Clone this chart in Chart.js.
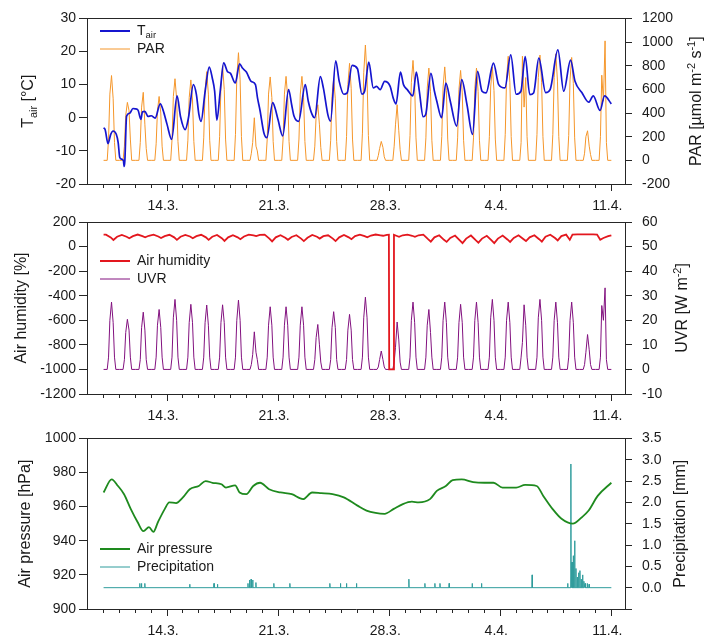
<!DOCTYPE html>
<html><head><meta charset="utf-8">
<script src="https://cdn.jsdelivr.net/npm/chart.js@4.4.1/dist/chart.umd.min.js"></script>
<style>
html,body{margin:0;padding:0;background:#fff;}
body{width:708px;height:638px;position:relative;overflow:hidden;}
canvas{position:absolute;left:0;}
</style></head><body>
<canvas id="c1" width="708" height="216" style="top:0px"></canvas>
<canvas id="c2" width="708" height="232" style="top:200px"></canvas>
<canvas id="c3" width="708" height="218" style="top:420px"></canvas>
<script>
// ---------- DATA (days counted from 1 March 00:00) ----------
const dayTicks = [9,10,11,12,13,14,15,16,17,18,19,20,21,22,23,24,25,26,27,28,29,30,31,32,33,34,35,36,37,38,39,40,41];
const majorDays = [13,20,27,34,41];
const majorLabels = ['14.3.','21.3.','28.3.','4.4.','11.4.'];
const firstDay = 9;

// air temperature
const tairDays = [9.0,9.1,9.28,9.45,9.6,9.8,9.92,10.02,10.15,10.25,10.3,10.34,10.45,10.65,10.85,11.0,11.17,11.35,11.45,11.6,11.8,12.0,12.25,12.57,12.75,13.0,13.29,13.63,13.85,14.14,14.35,14.66,14.85,15.0,15.14,15.4,15.66,15.85,16.0,16.14,16.35,16.57,16.8,17.0,17.3,17.57,17.75,18.0,18.3,18.57,18.7,18.86,19.1,19.29,19.66,19.8,20.0,20.29,20.66,20.85,21.0,21.29,21.71,21.9,22.14,22.3,22.66,22.85,23.14,23.3,23.63,23.85,24.14,24.35,24.66,25.0,25.28,25.45,25.71,26.0,26.2,26.43,26.71,27.06,27.25,27.43,27.71,27.9,28.14,28.49,28.71,28.9,29.14,29.3,29.63,29.85,30.0,30.3,30.57,30.85,31.25,31.57,31.9,32.25,32.57,32.85,33.1,33.57,33.9,34.29,34.66,35.0,35.3,35.57,35.86,36.1,36.43,36.86,37.14,37.63,38.0,38.43,38.71,39.14,39.57,39.86,40.29,40.57,41.0];
const tairVals = [-3,-3.6,-7.8,-5.0,-4.0,-5.0,-7.5,-12,-12.5,-13,-14.7,-13,0.5,1.4,2.8,2.7,2.3,-0.5,1.8,1.9,0.4,0.6,-0.1,4.2,2.3,-2.0,-6.5,6.6,0.3,-3.6,0,10,7,1.2,-1.1,8,15.3,12,8,-0.7,8,16.6,14,13.4,10.5,16.3,15,13.8,11,10,6,2.2,-4.5,-6,4.6,3,-0.7,-5.5,8.5,4,0.5,-1.1,10,5,1,0,12.4,9,0.8,-1,17.2,11,7.1,7.5,15.8,14.8,7.1,8,16.8,9.0,9.5,8.5,11.0,9.5,6,4.2,13.8,10,8.5,6.6,13.8,8,0.3,1,13.4,8,5,0,10.5,5,-2.5,11.5,4,-5,14,8,7.5,16.5,10,9,19,7.1,8,18.5,7,7.5,18,7.6,8.5,20.5,8,17.4,11,7.6,4.7,6.6,2.2,6.6,4.2];

// PAR and UVR: one row per day (10.3. ... 10.4., then 11.4.), values at these hours
const radHours = [0,5.5,7.5,9.5,12,14.5,16.5,18.5];
const parRows = [
[0,0,180,560,717,520,150,0],
[0,0,120,380,490,420,180,0],
[0,0,150,450,575,300,100,0],
[0,0,140,420,540,400,120,0],
[0,0,170,540,690,520,160,0],
[0,0,170,530,680,510,160,0],
[0,0,190,590,750,560,170,0],
[0,0,200,620,800,600,180,0],
[0,0,220,700,910,680,200,0],
[0,0,60,150,360,120,80,0],
[0,0,180,560,705,530,160,0],
[0,0,180,560,710,530,160,0],
[0,0,180,560,710,530,160,0],
[0,0,120,380,470,300,110,0],
[0,0,170,540,690,520,160,0],
[0,0,200,640,820,610,180,0],
[0,0,230,740,975,700,210,0],
[0,0,40,100,160,110,30,0],
[0,0,120,300,470,250,90,0],
[0,0,210,660,845,630,190,0],
[0,0,190,610,780,580,170,0],
[0,0,200,620,790,590,180,0],
[0,0,190,600,760,570,170,0],
[0,0,190,610,780,580,170,0],
[0,0,200,620,790,590,180,0],
[0,0,220,690,880,660,200,0],
[0,0,150,880,450,700,200,0],
[0,0,220,700,890,660,200,0],
[0,0,220,700,900,670,200,0],
[0,0,210,680,870,650,190,0],
[0,0,60,200,250,120,50,0],
[0,0,200,720,500,1010,150,0],
[0]
];
const uvrRows = [
[0,0,5,20,27.4,19,5,0],
[0,0,4,15,20.4,16,5,0],
[0,0,4,17,23.3,16,4,0],
[0,0,5,18,24.4,17,5,0],
[0,0,5,21,28.5,20,5,0],
[0,0,5,19,26.5,19,5,0],
[0,0,5,19,26.2,18,5,0],
[0,0,5,19,26.3,19,5,0],
[0,0,5,20,28.2,20,5,0],
[0,0,2,6,15.3,7,4,0],
[0,0,5,18,25.5,18,5,0],
[0,0,5,18,25.5,18,5,0],
[0,0,5,18,25.5,18,5,0],
[0,0,4,13,18.3,10,3,0],
[0,0,4,17,23.5,17,4,0],
[0,0,4,16,22.4,16,4,0],
[0,0,5,21,29.4,21,5,0],
[0,0,1,4,7.5,4,1,0],
[0,0,3,9,19.3,12,3,0],
[0,0,5,20,27.4,19,5,0],
[0,0,5,18,24.4,15,5,0],
[0,0,5,20,27.4,19,5,0],
[0,0,5,19,26.5,19,5,0],
[0,0,5,20,27.4,19,5,0],
[0,0,5,21,28.5,20,5,0],
[0,0,5,20,27.4,19,5,0],
[0,0,5,11,26.3,18,5,0],
[0,0,5,21,28.5,20,5,0],
[0,0,5,20,27.4,19,5,0],
[0,0,5,20,27.4,19,5,0],
[0,0,2,7,14.2,8,2,0],
[0,0,5,26,20,33.2,4,0],
[0]
];

// air humidity
const humDays = [9.0,9.15,9.45,9.62,9.85,10.15,10.45,10.62,10.85,11.15,11.45,11.62,11.85,12.15,12.45,12.62,12.85,13.15,13.45,13.62,13.85,14.15,14.45,14.62,14.85,15.15,15.45,15.62,15.85,16.15,16.45,16.62,16.85,17.15,17.45,17.62,17.85,18.15,18.45,18.62,18.85,19.15,19.45,19.62,19.85,20.15,20.45,20.62,20.85,21.15,21.45,21.62,21.85,22.15,22.45,22.62,22.85,23.15,23.45,23.62,23.85,24.15,24.45,24.62,24.85,25.15,25.45,25.62,25.85,26.15,26.45,26.62,26.85,26.98,27.0,27.28,27.3,27.45,27.62,27.85,28.15,28.45,28.62,28.85,29.15,29.45,29.62,29.85,30.15,30.45,30.62,30.85,31.15,31.45,31.62,31.85,32.15,32.45,32.62,32.85,33.15,33.45,33.62,33.85,34.15,34.45,34.62,34.85,35.15,35.45,35.62,35.85,36.15,36.45,36.62,36.85,37.15,37.45,37.62,37.85,38.15,38.3,38.38,38.55,38.85,39.15,39.45,39.85,40.1,40.3,40.5,40.8,41.0];
const humVals = [98,97,75,54,80,95,80,68,85,98,85,76,88,97,82,70,85,96,75,55,80,95,82,68,85,96,75,55,80,94,68,46,75,92,75,60,82,97,92,85,95,97,65,42,75,92,72,55,78,92,65,45,72,95,80,65,85,92,65,45,75,95,75,60,85,97,85,75,90,98,92,88,95,96,-1000,-1000,95,88,80,92,97,88,80,92,97,60,40,75,92,55,38,70,90,50,28,65,90,52,32,65,88,50,28,65,90,58,38,70,92,62,45,75,92,60,40,80,96,70,50,85,97,70,55,98,99,99,99,99,98,55,70,85,92];

// air pressure
const presDays = [9.0,9.51,9.91,10.29,10.71,11.14,11.51,11.86,12.14,12.43,12.86,13.14,13.57,14.0,14.43,15.0,15.43,15.86,16.43,16.71,17.29,17.57,18.0,18.43,18.86,19.43,20.14,20.86,21.57,22.14,22.71,23.43,24.14,25.0,25.57,26.14,26.71,27.29,27.86,28.43,28.86,29.57,30.0,30.57,31.0,31.57,32.29,33.0,33.57,34.14,35.0,35.57,36.29,36.71,37.29,37.86,38.57,39.14,39.57,40.14,41.0];
const presVals = [968.3,976,972.1,967.3,958.7,951,945.6,948,945.2,951,958.7,962.5,962.1,965.4,970.2,972.1,975,974,973.1,971.2,972.5,968.3,967.3,972.1,974,970.2,968.3,967.3,964.4,968.3,967.9,967.3,965.4,960.6,957.7,956.3,955.8,958.7,961.5,962.9,962.5,964.4,969.2,972.1,975.6,976,974.4,974,974,971.2,971.2,972.7,972.1,966.3,958.7,952.9,950,953.8,957.7,966.3,974];

// precipitation events (mm), zero otherwise
const precDays = [11.28,11.39,11.6,14.43,15.96,16.18,18.1,18.2,18.3,18.4,18.6,19.73,20.74,23.26,23.93,24.31,24.94,28.24,29.25,29.88,30.2,30.78,32.23,32.82,36.01,38.25,38.45,38.52,38.6,38.69,38.77,38.85,38.94,39.02,39.1,39.19,39.27,39.35,39.48,39.6];
const precVals = [0.1,0.1,0.1,0.08,0.1,0.08,0.1,0.18,0.2,0.18,0.12,0.1,0.1,0.1,0.1,0.1,0.1,0.2,0.1,0.1,0.1,0.1,0.1,0.1,0.3,0.1,2.9,0.6,0.75,1.1,0.45,0.25,0.35,0.4,0.2,0.3,0.15,0.1,0.1,0.08];
const precStart = 9, precEnd = 41;

// ---------- BUILD ----------
const pairs = (xs, ys) => xs.map((x, i) => ({x, y: ys[i]}));
const fromRows = rows => { const out = []; rows.forEach((r, d) => r.forEach((v, j) => out.push({x: firstDay + d + radHours[j] / 24, y: v}))); return out; };
const precLine = () => {
  const out = [{x: precStart, y: 0}];
  precDays.forEach((t, i) => { out.push({x: t - 0.012, y: 0}, {x: t, y: precVals[i]}, {x: t + 0.012, y: 0}); });
  out.push({x: precEnd, y: 0});
  return out;
};

const FF = "'Liberation Sans', Arial, Helvetica, sans-serif";
const AX = '#262626', TX = '#1a1a1a';
const C_T = '#1515cf', C_PAR = '#f5962a', C_H = '#e3171e', C_UV = '#82117f', C_AP = '#1e8a1e', C_PR = '#2e9c9c';
const X_MIN = 7.955, X_MAX = 41.86;

function fontFor(s, base) { const sz = s.k ? base * 0.68 : base; return sz + 'px ' + FF; }
function drawRot(ctx, segs, x, yc, base) {
  ctx.save(); ctx.translate(x, yc); ctx.rotate(-Math.PI / 2);
  let total = 0; const ws = [];
  segs.forEach(s => { ctx.font = fontFor(s, base); const w = ctx.measureText(s.t).width; ws.push(w); total += w; });
  let cx = -total / 2; ctx.fillStyle = TX; ctx.textBaseline = 'alphabetic'; ctx.textAlign = 'left';
  segs.forEach((s, i) => { ctx.font = fontFor(s, base); ctx.fillText(s.t, cx, s.k === 'sub' ? base * 0.25 : s.k === 'sup' ? -base * 0.38 : 0); cx += ws[i]; });
  ctx.restore();
}
const deco = {
  id: 'deco',
  afterDraw(chart, args, o) {
    const ctx = chart.ctx, a = chart.chartArea, xs = chart.scales.x;
    ctx.save();
    ctx.strokeStyle = AX; ctx.lineWidth = 1;
    ctx.beginPath(); ctx.moveTo(a.left, Math.round(a.top) + 0.5); ctx.lineTo(a.right, Math.round(a.top) + 0.5); ctx.stroke();
    majorDays.forEach(d => { const px = Math.round(xs.getPixelForValue(d)) + 0.5; ctx.beginPath(); ctx.moveTo(px, a.bottom); ctx.lineTo(px, a.bottom + 7); ctx.stroke(); });
    drawRot(ctx, o.left, o.leftX, (a.top + a.bottom) / 2, 16);
    drawRot(ctx, o.right, o.rightX, (a.top + a.bottom) / 2, 16);
    o.legend.forEach((it, i) => {
      const y = o.legendY[i];
      ctx.strokeStyle = it.color; ctx.lineWidth = it.w;
      ctx.beginPath(); ctx.moveTo(100, y); ctx.lineTo(130, y); ctx.stroke();
      let cx = 137; ctx.fillStyle = TX; ctx.textBaseline = 'middle'; ctx.textAlign = 'left';
      it.segs.forEach(s => { ctx.font = fontFor(s, 14); ctx.fillText(s.t, cx, s.k === 'sub' ? y + 4 : y); cx += ctx.measureText(s.t).width; });
    });
    ctx.restore();
  }
};

function xScale(h) {
  return {
    type: 'linear', position: 'bottom', min: X_MIN, max: X_MAX,
    afterBuildTicks: s => { s.ticks = dayTicks.map(v => ({value: v})); },
    afterFit: s => { s.height = h; },
    grid: {drawOnChartArea: false, drawTicks: true, tickLength: 4, color: AX, lineWidth: 1},
    border: {display: true, color: AX, width: 1},
    ticks: {autoSkip: false, maxRotation: 0, minRotation: 0, padding: 10, labelOffset: -4, color: TX, font: {family: FF, size: 14},
      callback: v => { const i = majorDays.indexOf(v); return i >= 0 ? majorLabels[i] : ''; }}
  };
}
function yScale(pos, min, max, step, w, fmt) {
  const left = pos === 'left';
  return {
    type: 'linear', position: pos, min, max,
    afterFit: s => { s.width = w; },
    grid: {drawOnChartArea: false, drawTicks: true, tickLength: left ? 8 : 7, color: AX, lineWidth: 1},
    border: {display: true, color: AX, width: 1},
    ticks: {stepSize: step, padding: left ? 3 : 10, color: TX, font: {family: FF, size: 14}, callback: fmt || (v => String(v))}
  };
}
function makeChart(id, datasets, scales, padTop, decoOpts) {
  return new Chart(document.getElementById(id), {
    type: 'line',
    data: {datasets},
    options: {
      responsive: false, animation: false, devicePixelRatio: 1,
      layout: {padding: {top: padTop, left: 0, right: 0, bottom: 0}},
      elements: {point: {radius: 0}, line: {tension: 0}},
      plugins: {legend: {display: false}, tooltip: {enabled: false}, deco: decoOpts},
      scales
    },
    plugins: [deco]
  });
}

// ---------- PANEL 1 ----------
makeChart('c1', [
  {data: pairs(tairDays, tairVals), borderColor: C_T, borderWidth: 1.7, yAxisID: 'y', cubicInterpolationMode: 'monotone'},
  {data: fromRows(parRows), borderColor: C_PAR, borderWidth: 1, yAxisID: 'y1'}
], {
  x: xScale(216 - 184),
  y: yScale('left', -20, 30, 10, 87),
  y1: yScale('right', -200, 1200, 200, 83)
}, 11, {
  left: [{t: 'T'}, {t: 'air', k: 'sub'}, {t: ' [°C]'}], leftX: 33,
  right: [{t: 'PAR [µmol m'}, {t: '-2', k: 'sup'}, {t: ' s'}, {t: '-1', k: 'sup'}, {t: ']'}], rightX: 701,
  legend: [{segs: [{t: 'T'}, {t: 'air', k: 'sub'}], color: C_T, w: 2}, {segs: [{t: 'PAR'}], color: C_PAR, w: 1}],
  legendY: [31, 49]
});

// ---------- PANEL 2 ----------
makeChart('c2', [
  {data: pairs(humDays, humVals), borderColor: C_H, borderWidth: 1.8, yAxisID: 'y'},
  {data: fromRows(uvrRows), borderColor: C_UV, borderWidth: 1, yAxisID: 'y1'}
], {
  x: xScale(232 - 194),
  y: yScale('left', -1200, 200, 200, 87),
  y1: yScale('right', -10, 60, 10, 83)
}, 22, {
  left: [{t: 'Air humidity [%]'}], leftX: 26,
  right: [{t: 'UVR [W m'}, {t: '-2', k: 'sup'}, {t: ']'}], rightX: 687,
  legend: [{segs: [{t: 'Air humidity'}], color: C_H, w: 2}, {segs: [{t: 'UVR'}], color: C_UV, w: 1}],
  legendY: [61, 79]
});

// ---------- PANEL 3 ----------
makeChart('c3', [
  {data: pairs(presDays, presVals), borderColor: C_AP, borderWidth: 1.8, yAxisID: 'y', cubicInterpolationMode: 'monotone'},
  {data: precLine(), borderColor: C_PR, borderWidth: 1, yAxisID: 'y1'}
], {
  x: xScale(218 - 189),
  y: yScale('left', 900, 1000, 20, 87),
  y1: yScale('right', -0.5, 3.5, 0.5, 83, v => v < -0.01 ? '' : v.toFixed(1))
}, 15, {
  left: [{t: 'Air pressure [hPa]'}], leftX: 29.5,
  right: [{t: 'Precipitation [mm]'}], rightX: 685,
  legend: [{segs: [{t: 'Air pressure'}], color: C_AP, w: 2}, {segs: [{t: 'Precipitation'}], color: C_PR, w: 1}],
  legendY: [129, 147]
});
</script>
</body></html>
